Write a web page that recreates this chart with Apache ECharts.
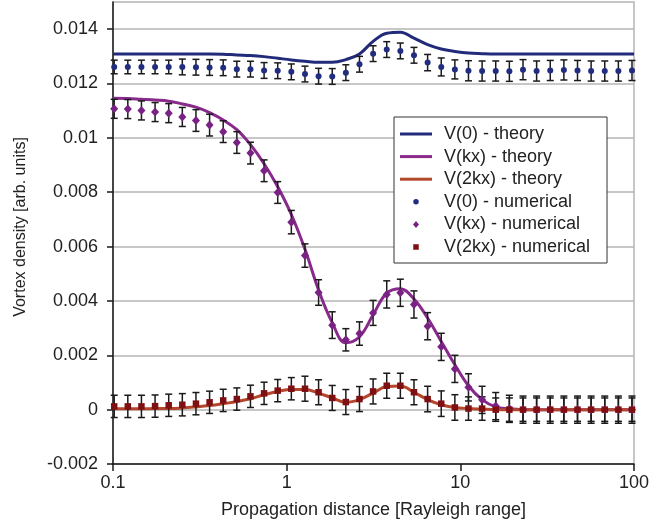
<!DOCTYPE html>
<html>
<head>
<meta charset="utf-8">
<script src="https://cdn.jsdelivr.net/npm/echarts@6/dist/echarts.min.js"></script>
<style>
  html, body { margin: 0; padding: 0; background: #fff; }
  #chart { width: 652px; height: 526px; }
</style>
</head>
<body>
<div id="chart"></div>
<script>
// propagation distance of the numerical samples
var xNum = [0.1016, 0.1217, 0.1458, 0.1747, 0.2093, 0.2507, 0.3004, 0.3599, 0.4311, 0.5165,
            0.6188, 0.7413, 0.8881, 1.064, 1.275, 1.527, 1.830, 2.192, 2.626, 3.146,
            3.769, 4.515, 5.409, 6.481, 7.764, 9.302, 11.14, 13.35, 15.99, 19.16,
            22.96, 27.50, 32.95, 39.47, 47.29, 56.65, 67.87, 81.31, 97.40];
// theory curves are sampled on the same points, from 0.1 to 100
var xTheory = [0.1, 0.1217, 0.1458, 0.1747, 0.2093, 0.2507, 0.3004, 0.3599, 0.4311, 0.5165,
               0.6188, 0.7413, 0.8881, 1.064, 1.275, 1.527, 1.830, 2.192, 2.626, 3.146,
               3.769, 4.515, 5.409, 6.481, 7.764, 9.302, 11.14, 13.35, 15.99, 19.16,
               22.96, 27.50, 32.95, 39.47, 47.29, 56.65, 67.87, 81.31, 97.40, 100];

var v0Theory = [0.01309, 0.01309, 0.01309, 0.01309, 0.01309, 0.01309, 0.01309, 0.01309, 0.01308, 0.01305,
                0.01303, 0.01299, 0.01293, 0.01287, 0.01282, 0.01278, 0.01278, 0.01288, 0.01309, 0.01355,
                0.01385, 0.01389, 0.01367, 0.01343, 0.01327, 0.01318, 0.01312, 0.01310, 0.01309, 0.01309,
                0.01309, 0.01309, 0.01309, 0.01309, 0.01309, 0.01309, 0.01309, 0.01309, 0.01309, 0.01309];
var vkTheory = [0.01146, 0.01145, 0.01142, 0.01139, 0.01135, 0.01125, 0.01113, 0.01093, 0.01066, 0.01030,
                0.00975, 0.00905, 0.00820, 0.00718, 0.00590, 0.00440, 0.00320, 0.00246, 0.00268, 0.00349,
                0.00429, 0.00445, 0.00407, 0.00337, 0.00251, 0.00165, 0.00088, 0.00037, 0.00010, 0.00003,
                0, 0, 0, 0, 0, 0, 0, 0, 0, 0];
var v2Theory = [0.00003, 0.00003, 0.00003, 0.00004, 0.00004, 0.00006, 0.00010, 0.00015, 0.00022, 0.00030,
                0.00040, 0.00055, 0.00067, 0.00074, 0.00074, 0.00061, 0.00043, 0.00027, 0.00037, 0.00061,
                0.00085, 0.00087, 0.00064, 0.00037, 0.00018, 0.00008, 0.00004, 0.00002, 0, 0,
                0, 0, 0, 0, 0, 0, 0, 0, 0, 0];

var v0Num = [0.01261, 0.01261, 0.01261, 0.01261, 0.01261, 0.01261, 0.01260, 0.01259, 0.01258, 0.01253,
             0.01253, 0.01248, 0.01247, 0.01243, 0.01235, 0.01227, 0.01226, 0.01240, 0.01271, 0.01310,
             0.01325, 0.01320, 0.01304, 0.01277, 0.01261, 0.01252, 0.01247, 0.01246, 0.01246, 0.01245,
             0.01251, 0.01246, 0.01248, 0.01250, 0.01248, 0.01246, 0.01246, 0.01246, 0.01248];
var v0Err = [0.00025, 0.00025, 0.00025, 0.00025, 0.00025, 0.00029, 0.00029, 0.00029, 0.00029, 0.00029,
             0.00029, 0.00029, 0.00029, 0.00029, 0.00029, 0.00029, 0.00029, 0.00029, 0.00029, 0.00029,
             0.00029, 0.00029, 0.00029, 0.00030, 0.00033, 0.00035, 0.00037, 0.00037, 0.00037, 0.00037,
             0.00037, 0.00037, 0.00037, 0.00037, 0.00037, 0.00037, 0.00037, 0.00037, 0.00037];

var vkNum = [0.01107, 0.01106, 0.01101, 0.01095, 0.01091, 0.01077, 0.01064, 0.01047, 0.01023, 0.00983,
             0.00944, 0.00879, 0.00799, 0.00690, 0.00567, 0.00431, 0.00311, 0.00257, 0.00280, 0.00356,
             0.00424, 0.00430, 0.00387, 0.00307, 0.00231, 0.00150, 0.00082, 0.00036, 0.00013, 0.00003,
             0, 0, 0, 0, 0, 0, 0, 0, 0];
var vkErr = [0.00035, 0.00035, 0.00035, 0.00035, 0.00035, 0.00035, 0.00040, 0.00040, 0.00040, 0.00040,
             0.00040, 0.00040, 0.00040, 0.00043, 0.00043, 0.00047, 0.00049, 0.00041, 0.00043, 0.00046,
             0.00050, 0.00050, 0.00050, 0.00050, 0.00050, 0.00050, 0.00050, 0.00050, 0.00050, 0.00050,
             0.00050, 0.00050, 0.00050, 0.00050, 0.00050, 0.00050, 0.00050, 0.00050, 0.00050];

var v2Num = [0.00012, 0.00012, 0.00012, 0.00013, 0.00016, 0.00018, 0.00022, 0.00027, 0.00034, 0.00039,
             0.00049, 0.00060, 0.00070, 0.00077, 0.00077, 0.00064, 0.00043, 0.00028, 0.00039, 0.00067,
             0.00088, 0.00088, 0.00064, 0.00039, 0.00022, 0.00008, 0.00004, 0.00004, 0, 0,
             0, 0, 0, 0, 0, 0, 0, 0, 0];
var v2Err = [0.00041, 0.00041, 0.00041, 0.00041, 0.00041, 0.00041, 0.00041, 0.00041, 0.00041, 0.00041,
             0.00041, 0.00041, 0.00041, 0.00041, 0.00046, 0.00046, 0.00046, 0.00046, 0.00046, 0.00046,
             0.00046, 0.00046, 0.00046, 0.00047, 0.00047, 0.00047, 0.00043, 0.00043, 0.00043, 0.00043,
             0.00043, 0.00043, 0.00043, 0.00043, 0.00043, 0.00043, 0.00043, 0.00043, 0.00043];

var yTicks = [-0.002, 0, 0.002, 0.004, 0.006, 0.008, 0.01, 0.012, 0.014];

var names = ['V(0) - theory', 'V(kx) - theory', 'V(2kx) - theory',
             'V(0) - numerical', 'V(kx) - numerical', 'V(2kx) - numerical'];

var FONT = "'Liberation Sans', Arial, sans-serif";
var TXT = '#222';

function pairs(xs, ys) {
    return xs.map(function (x, i) { return [x, ys[i]]; });
}
function bars(xs, ys, es) {
    return xs.map(function (x, i) { return [x, ys[i] - es[i], ys[i] + es[i]]; });
}
function renderBar(params, api) {
    var x = api.value(0);
    var lo = api.coord([x, api.value(1)]);
    var hi = api.coord([x, api.value(2)]);
    var c = 3.5;
    var st = { stroke: '#1a1a1a', lineWidth: 1.5 };
    return {
        type: 'group',
        children: [
            { type: 'line', shape: { x1: lo[0], y1: lo[1], x2: hi[0], y2: hi[1] }, style: st },
            { type: 'line', shape: { x1: lo[0] - c, y1: lo[1], x2: lo[0] + c, y2: lo[1] }, style: st },
            { type: 'line', shape: { x1: hi[0] - c, y1: hi[1], x2: hi[0] + c, y2: hi[1] }, style: st }
        ]
    };
}
function theory(name, ys, color) {
    return {
        name: name, type: 'line', data: pairs(xTheory, ys), smooth: 0.4,
        symbol: 'none', z: 2, color: color,
        lineStyle: { color: color, width: 3 }
    };
}
function errSeries(ys, es) {
    return {
        type: 'custom', renderItem: renderBar, data: bars(xNum, ys, es),
        encode: { x: 0, y: [1, 2] }, z: 3, silent: true
    };
}
function points(name, ys, color, symbol, size) {
    return {
        name: name, type: 'scatter', data: pairs(xNum, ys), symbol: symbol,
        symbolSize: size, z: 4, color: color, itemStyle: { color: color, opacity: 1 }
    };
}

var cNavy = '#222a7a', cPurple = '#882a8c', cRust = '#b3462b';
var cNavyPt = '#232d80', cPurplePt = '#7a2283', cRedPt = '#7e1014';

var BOX = 'M0,0M32,7';
var legendIcons = [
    'path://' + BOX + 'M0,2H32V5H0Z',
    'path://' + BOX + 'M0,2H32V5H0Z',
    'path://' + BOX + 'M0,2H32V5H0Z',
    'path://' + BOX + 'M18.75,3.5A2.75,2.75,0,1,1,13.25,3.5A2.75,2.75,0,1,1,18.75,3.5Z',
    'path://' + BOX + 'M16,0L19,3.5L16,7L13,3.5Z',
    'path://' + BOX + 'M13.25,0.75H18.75V6.25H13.25Z'
];

var chart = echarts.init(document.getElementById('chart'), null, { renderer: 'canvas' });
chart.setOption({
    animation: false,
    backgroundColor: '#fff',
    textStyle: { fontFamily: FONT },
    grid: {
        left: 113, right: 14, top: 2, bottom: 62,
        show: true, borderColor: '#b4b4b4', borderWidth: 1.5
    },
    legend: {
        orient: 'vertical', left: 394, top: 117,
        selectedMode: false,
        backgroundColor: '#fff', borderColor: '#333', borderWidth: 1,
        padding: [7, 17, 6, 6],
        itemWidth: 32, itemHeight: 7, itemGap: 2.6,
        itemStyle: { opacity: 1 },
        textStyle: { fontSize: 18, color: TXT, fontFamily: FONT, lineHeight: 20, padding: [0, 0, 0, 7] },
        data: names.map(function (n, i) { return { name: n, icon: legendIcons[i] }; })
    },
    xAxis: {
        type: 'log', logBase: 10, min: 0.1, max: 100,
        name: 'Propagation distance [Rayleigh range]',
        nameLocation: 'middle', nameGap: 37,
        nameTextStyle: { fontSize: 18, color: TXT, fontFamily: FONT },
        axisLine: { onZero: false, lineStyle: { color: '#1a1a1a', width: 1.5 } },
        axisTick: { show: true, inside: false, length: 7, lineStyle: { color: '#1a1a1a', width: 1.5 } },
        minorTick: { show: false },
        splitLine: { show: false },
        axisLabel: {
            fontSize: 18, color: TXT, fontFamily: FONT, margin: 10,
            formatter: function (v) { return String(Math.round(v * 10) / 10); }
        }
    },
    yAxis: {
        type: 'value', min: -0.002, max: 0.015, interval: 0.002,
        name: 'Vortex density [arb. units]',
        nameLocation: 'middle', nameGap: 84,
        nameTextStyle: { fontSize: 16, color: TXT, fontFamily: FONT, padding: [0, 0, 0, 12] },
        axisLine: { show: true, lineStyle: { color: '#1a1a1a', width: 1.5 } },
        axisTick: { show: true, inside: false, length: 6, customValues: yTicks,
                    lineStyle: { color: '#1a1a1a', width: 1.5 } },
        splitLine: { show: true, lineStyle: { color: '#b4b4b4', width: 1.5 } },
        axisLabel: {
            fontSize: 18, color: TXT, fontFamily: FONT, margin: 15, customValues: yTicks,
            formatter: function (v) { return String(Math.round(v * 1000) / 1000); }
        }
    },
    series: [
        theory(names[0], v0Theory, cNavy),
        theory(names[1], vkTheory, cPurple),
        theory(names[2], v2Theory, cRust),
        errSeries(v0Num, v0Err),
        errSeries(vkNum, vkErr),
        errSeries(v2Num, v2Err),
        points(names[3], v0Num, cNavyPt, 'circle', 6),
        points(names[4], vkNum, cPurplePt, 'diamond', [8, 9]),
        points(names[5], v2Num, cRedPt, 'rect', 6.5)
    ]
});
</script>
</body>
</html>
